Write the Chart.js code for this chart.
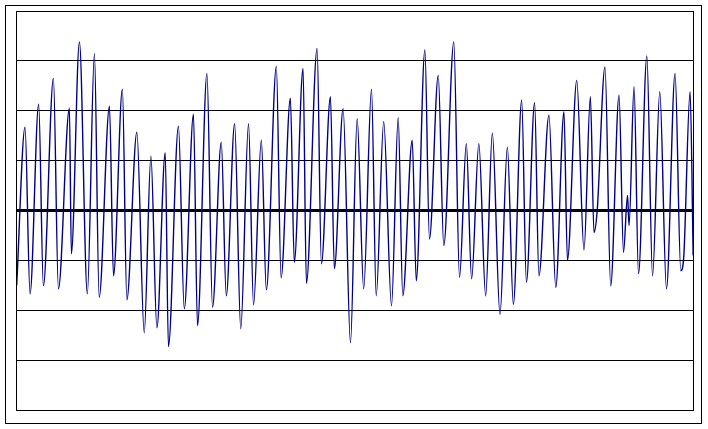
<!DOCTYPE html>
<html>
<head>
<meta charset="utf-8">
<script src="https://cdn.jsdelivr.net/npm/chart.js@4"></script>
<style>
  body { margin: 0; background: #fff; }
  canvas { display: block; }
</style>
</head>
<body>
<canvas id="chart" width="708" height="429"></canvas>
<script>
// time (days) and reading at each turning point of the trace
const days = [0.05, 0.65, 1.01, 1.63, 1.97, 2.69, 3.05, 3.84, 3.98, 4.56,
  5.13, 5.64, 5.98, 6.72, 7.01, 7.65, 7.97, 8.69, 9.22, 9.70,
  10.13, 10.73, 10.96, 11.68, 12.10, 12.76, 13.05, 13.73, 14.13, 14.76,
  15.12, 15.72, 16.16, 16.72, 17.08, 17.64, 18.00, 18.72, 19.06, 19.73,
  20.01, 20.64, 20.88, 21.65, 21.96, 22.61, 22.89, 23.52, 24.05, 24.53,
  25.00, 25.56, 25.90, 26.44, 27.00, 27.48, 27.81, 28.49, 28.78, 29.40,
  29.73, 30.36, 30.76, 31.48, 31.89, 32.38, 32.76, 33.28, 33.77, 34.25,
  34.80, 35.33, 35.76, 36.36, 36.70, 37.29, 37.60, 38.32, 38.81, 39.40,
  39.65, 40.32, 40.84, 41.30, 41.56, 41.79, 42.35, 42.76, 43.36, 43.68,
  43.97, 44.08, 44.44, 44.76, 45.36, 45.77, 46.29, 46.77, 47.39, 47.80,
  48.01, 48.47, 48.69];
const readings = [-1.50, 1.67, -1.67, 2.13, -1.51, 2.65, -1.57, 2.05, -0.87, 3.38,
  -1.67, 3.15, -1.74, 2.09, -1.31, 2.43, -1.79, 1.57, -2.45, 1.09,
  -2.35, 1.16, -2.73, 1.69, -1.97, 1.93, -2.31, 2.75, -1.94, 1.37,
  -1.71, 1.74, -2.37, 1.74, -1.89, 1.41, -1.59, 2.89, -1.35, 2.25,
  -1.04, 2.85, -1.46, 3.25, -1.07, 2.28, -1.17, 2.04, -2.65, 1.84,
  -1.57, 2.43, -1.71, 1.78, -1.91, 1.86, -1.71, 1.41, -1.41, 3.22,
  -0.57, 2.71, -0.70, 3.38, -1.34, 1.34, -1.37, 1.34, -1.71, 1.55,
  -2.08, 1.27, -1.88, 2.21, -1.44, 2.16, -1.31, 1.91, -1.54, 1.98,
  -1.00, 2.61, -0.79, 2.28, -0.44, 0.00, 2.88, -1.51, 2.31, -0.84,
  0.30, -0.30, 2.48, -1.27, 3.10, -1.31, 2.38, -1.57, 2.75, -1.21,
  -0.94, 2.38, -0.90];
const yMin = -4, yMax = 4, xMax = 48.75;

const frames = {
  id: 'frames',
  afterDraw(chart) {
    const c = chart.ctx, a = chart.chartArea;
    c.save();
    c.strokeStyle = '#000';
    c.lineWidth = 1;
    c.strokeRect(5.5, 5.5, 696, 418);
    c.strokeRect(a.left + 0.5, a.top + 0.5, a.right - a.left - 1, a.bottom - a.top);
    c.restore();
  }
};

new Chart(document.getElementById('chart'), {
  type: 'line',
  data: {
    datasets: [{
      data: days.map((d, i) => ({ x: d, y: readings[i] })),
      borderColor: '#000088',
      borderWidth: 1.4,
      pointRadius: 0,
      cubicInterpolationMode: 'monotone',
      fill: false
    }]
  },
  options: {
    responsive: false,
    animation: false,
    devicePixelRatio: 1,
    layout: { padding: { left: 16, top: 11, right: 14, bottom: 19 } },
    plugins: { legend: { display: false }, tooltip: { enabled: false } },
    scales: {
      x: {
        type: 'linear', min: 0, max: xMax,
        ticks: { display: false },
        grid: { display: false, drawTicks: false },
        border: { display: false }
      },
      y: {
        min: yMin, max: yMax,
        ticks: { display: false, stepSize: 1 },
        grid: {
          color: '#000',
          drawTicks: false,
          lineWidth: ctx => (ctx.tick && ctx.tick.value === 0 ? 3 : 1)
        },
        border: { display: false }
      }
    }
  },
  plugins: [frames]
});
</script>
</body>
</html>
